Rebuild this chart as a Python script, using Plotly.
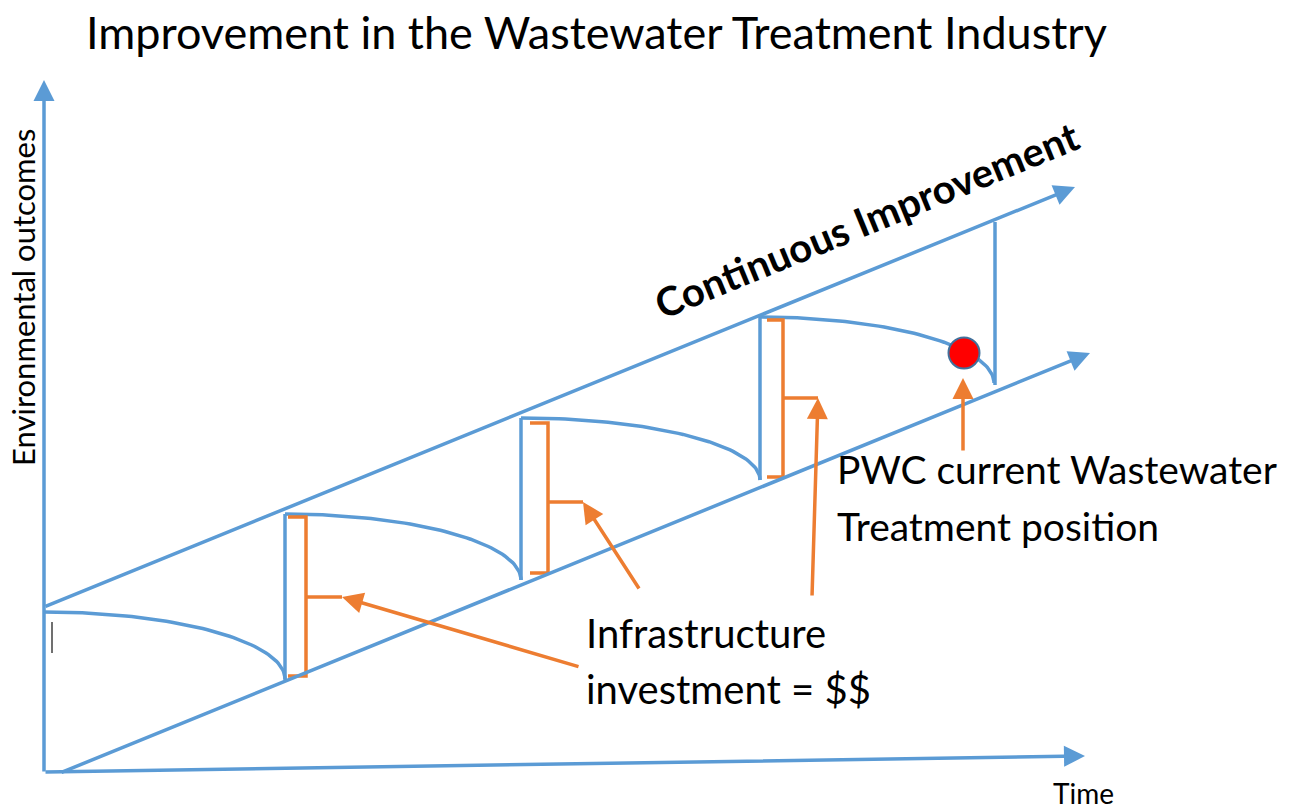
import numpy as np
import plotly.graph_objects as go

BLUE = "#5B9BD5"
ORANGE = "#ED7D31"
FONT = "Lato"

# ---- schematic geometry (diagram units: x = time, y = page position, top = 0) ----
y_axis_x = [44, 44]
y_axis_y = [773, 80]
x_axis_x = [44, 1085]
x_axis_y = [772, 756]
upper_band_x = [44, 1075]
upper_band_y = [607, 187]
lower_band_x = [60, 1090]
lower_band_y = [773, 353]

# declining performance between investments
decay_start_x = [44, 285, 521, 760]
decay_start_y = [612, 514, 418, 317]
decay_end_x = [285, 521, 760, 994]
decay_end_y = [679, 580, 480, 383]

# investment jumps
invest_x = [285, 521, 760, 995]
invest_bottom_y = [680, 580, 480, 385]
invest_top_y = [514, 418, 317, 222]

# orange brackets (investment size)
bracket_left_x = [288, 530, 767]
bracket_right_x = [306, 548, 783]
bracket_top_y = [517, 423, 320]
bracket_bottom_y = [676, 573, 477]
bracket_mid_y = [597, 502, 398]
bracket_tip_x = [342, 583, 818]
arrow_tail_x = [580, 640, 812]
arrow_tail_y = [667, 590, 597]

# current position
current_x = [964]
current_y = [353]
pointer_tail = [963, 452]
pointer_tip = [963, 378]

fig = go.Figure()

def line(xs, ys, color=BLUE, width=3.5):
    fig.add_trace(go.Scatter(x=xs, y=ys, mode="lines",
                             line=dict(color=color, width=width),
                             hoverinfo="skip", showlegend=False))

# decay curves (quarter ellipses)
t = np.linspace(0, np.pi / 2, 60)
for xs, ys, xe, ye in zip(decay_start_x, decay_start_y, decay_end_x, decay_end_y):
    line(xs + (xe - xs) * np.sin(t), ye - (ye - ys) * np.cos(t))

# investment verticals
for x, yb, yt in zip(invest_x, invest_bottom_y, invest_top_y):
    line([x, x], [yb, yt])

# brackets
for xl, xr, yt, yb, ym, xt in zip(bracket_left_x, bracket_right_x, bracket_top_y,
                                  bracket_bottom_y, bracket_mid_y, bracket_tip_x):
    line([xl, xr, xr, xl], [yt, yt, yb, yb], color=ORANGE, width=3.5)
    line([xr, xt], [ym, ym], color=ORANGE, width=3.5)

# cursor mark
line([52, 52], [622, 653], color="#404040", width=1.5)

annotations = []

def arrow(x0, y0, x1, y1, color, width=3.5, size=1.2):
    annotations.append(dict(x=x1, y=y1, ax=x0, ay=y0, xref="x", yref="y",
                            axref="x", ayref="y", showarrow=True, text="",
                            arrowhead=2, arrowsize=size, arrowwidth=width,
                            arrowcolor=color))

arrow(y_axis_x[0], y_axis_y[0], y_axis_x[1], y_axis_y[1], BLUE)
arrow(x_axis_x[0], x_axis_y[0], x_axis_x[1], x_axis_y[1], BLUE)
arrow(upper_band_x[0], upper_band_y[0], upper_band_x[1], upper_band_y[1], BLUE)
arrow(lower_band_x[0], lower_band_y[0], lower_band_x[1], lower_band_y[1], BLUE)

for tx, ty, hx, hy in zip(arrow_tail_x, arrow_tail_y, bracket_tip_x, bracket_mid_y):
    arrow(tx, ty, hx, hy, ORANGE)
arrow(pointer_tail[0], pointer_tail[1], pointer_tip[0], pointer_tip[1], ORANGE)

fig.add_trace(go.Scatter(x=current_x, y=current_y, mode="markers",
                         marker=dict(size=31, color="#FF0000",
                                     line=dict(color="#41719C", width=2)),
                         hoverinfo="skip", showlegend=False))

def text(x, y, s, size, xanchor="left", angle=0, bold=False):
    annotations.append(dict(x=x, y=y, xref="x", yref="y", text=(f"<b>{s}</b>" if bold else s),
                            showarrow=False, xanchor=xanchor, yanchor="middle",
                            textangle=angle,
                            font=dict(family=FONT, size=size, color="#000000")))

text(84, 32, "Improvement in the Wastewater Treatment Industry", 45)
text(866, 220, "Continuous Improvement", 40, xanchor="center", angle=-22.3, bold=True)
text(23, 298, "Environmental outcomes", 31, xanchor="center", angle=-90)
text(1083, 793, "Time", 28, xanchor="center")
text(835, 469, "PWC current Wastewater", 39)
text(835, 526, "Treatment position", 39)
text(584, 633, "Infrastructure", 40)
text(584, 689, "investment = $$", 40)

fig.update_layout(
    width=1295, height=809,
    margin=dict(l=0, r=0, t=0, b=0),
    paper_bgcolor="white", plot_bgcolor="white",
    xaxis=dict(range=[0, 1295], visible=False, fixedrange=True),
    yaxis=dict(range=[809, 0], visible=False, fixedrange=True),
    annotations=annotations,
    showlegend=False,
    hovermode=False,
)

fig.write_html("out.html", config={"displayModeBar": False},
               post_script="document.body.style.margin='0';document.body.style.overflow='hidden';")
